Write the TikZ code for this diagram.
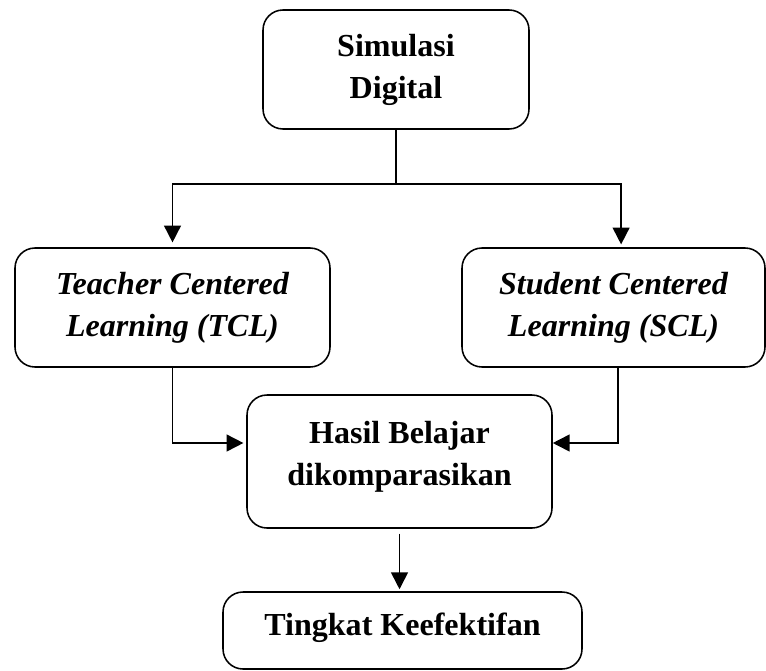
\documentclass[tikz,border=0pt]{standalone}
\usepackage{fontspec}
\setmainfont{Liberation Serif}
\usepackage{tikz}
\usetikzlibrary{
  arrows.meta,
  positioning,
  calc
}
\newcommand{\lowpad}[1]{\rule[-#1]{0pt}{#1}}
\tikzset{
  box/.style = {rectangle, rounded corners=0.5cm, draw=black,
      line width=1.1pt, align=center, inner sep=0pt,
      font=\fontsize{22.8}{29.9}\selectfont\bfseries},
  ibox/.style = {box, font=\fontsize{22.8}{29.9}\selectfont\bfseries\itshape},
  flow/.style = {line width=1.2pt,
      -{Triangle[length=0.42cm, width=0.42cm]}},
}

\begin{document}
\begin{tikzpicture}
  \useasboundingbox (0,0) rectangle (19.15,-16.75);

  \node[box, minimum width=6.65cm, minimum height=2.975cm]
  (sim) at (9.9,-1.7375) {Simulasi\\Digital};
  \node[ibox, minimum width=7.875cm, minimum height=2.975cm]
  (tcl) at (4.3125,-7.6875) {Teacher Centered\\Learning (TCL)};
  \node[ibox, minimum width=7.575cm, minimum height=2.975cm]
  (scl) at (15.3375,-7.6875) {Student Centered\\Learning (SCL)};
  \node[box, minimum width=7.625cm, minimum height=3.325cm]
  (hasil) at (9.9875,-11.5375) {Hasil Belajar\\dikomparasikan\lowpad{0.425cm}};
  \node[box, minimum width=8.975cm, minimum height=1.925cm]
  (tingkat) at (10.0625,-15.7625) {Tingkat Keefektifan\lowpad{0.325cm}};

  % split from the top box
  \coordinate (split) at (sim.south |- 0,-4.6);
  \draw[line width=1.2pt] (sim.south) -- (split);
  \draw[flow, shorten >=0.12cm] (split) -| (tcl.north);
  \draw[flow, shorten >=0.07cm] (split) -| ([xshift=0.19cm]scl.north);

  % both groups into the comparison
  \draw[flow, shorten >=0.07cm] (tcl.south) |- ([yshift=0.4625cm]hasil.west);
  \draw[flow] ([xshift=0.11cm]scl.south) |- ([yshift=0.4625cm]hasil.east);

  \draw[flow, shorten <=0.12cm, shorten >=0.05cm] (hasil.south) -- (hasil.south |- tingkat.north);
\end{tikzpicture}
\end{document}
